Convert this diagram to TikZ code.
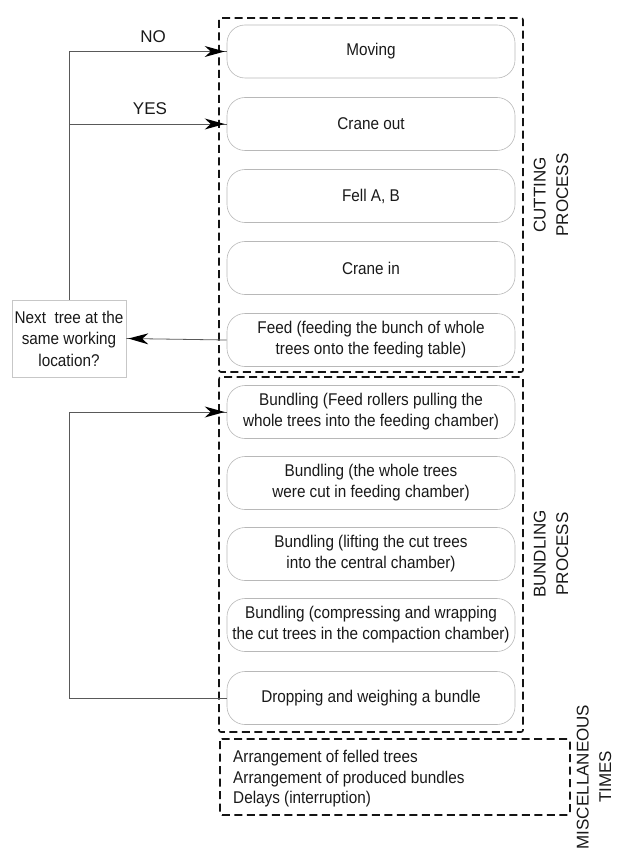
\documentclass[tikz,border=0pt]{standalone}
\usepackage{fontspec}
\setmainfont{Liberation Sans}[FakeStretch=0.9]
\newfontfamily\labfont{Liberation Sans}
\usetikzlibrary{decorations.markings}
\tikzset{
  stepbox/.style={draw=black!28, line width=0.6pt, rounded corners=18pt,
    minimum width=288pt, minimum height=53pt, align=center, text=black!90,
    font=\fontsize{17}{21}\selectfont, inner sep=0pt},
  qbox/.style={draw=black!22, line width=0.6pt, minimum width=114pt,
    minimum height=77pt, align=center, text=black!90,
    font=\fontsize{17}{21.5}\selectfont, inner sep=0pt},
  group/.style={draw=black!92, line width=1.6pt, dash pattern=on 8pt off 4.5pt, rounded corners=2pt},
  conn/.style={draw=black!65, line width=0.8pt},
  arr/.style={conn, postaction={decorate},
    decoration={markings, mark=at position 1 with {\fill[black] (-2pt,0pt) -- (-22pt,5.5pt) -- (-16pt,0pt) -- (-22pt,-5.5pt) -- cycle;}}},
  lab/.style={text=black!90, font=\labfont\fontsize{17}{22.5}\selectfont, align=center, inner sep=0pt},
  misc/.style={text=black!90, font=\fontsize{17}{20.5}\selectfont, inner sep=0pt, anchor=base west}
}
\begin{document}
\begin{tikzpicture}[x=1pt,y=-1pt]
\useasboundingbox (0,0) rectangle (617,850);

% group frames
\draw[group] (219,18) rectangle (523,372);
\draw[group] (219,377) rectangle (523,732);
\draw[group] (220,739) rectangle (570,815);

% cutting process steps
\node[stepbox] (mov)  at (371,51.5) {Moving};
\node[stepbox] (cout) at (371,124) {Crane out};
\node[stepbox] (fell) at (371,196) {Fell A, B};
\node[stepbox] (cin)  at (371,268) {Crane in};
\node[stepbox] (feed) at (371,340) {Feed (feeding the bunch of whole\\trees onto the feeding table)};

% bundling process steps
\node[stepbox] (b1) at (371,412) {Bundling (Feed rollers pulling the\\whole trees into the feeding chamber)};
\node[stepbox] (b2) at (371,483) {Bundling (the whole trees\\were cut in feeding chamber)};
\node[stepbox] (b3) at (371,554) {Bundling (lifting the cut trees\\into the central chamber)};
\node[stepbox] (b4) at (371,625) {Bundling (compressing and wrapping\\the cut trees in the compaction chamber)};
\node[stepbox] (b5) at (371,698) {Dropping and weighing a bundle};

% decision box
\node[qbox] (next) at (69,338.5) {Next\ \ tree at the\\same working\\location?};

% connectors
\draw[arr] (next.north) |- (mov.west);
\draw[arr] (next.north |- cout.west) -- (cout.west);
\draw[arr] (feed.west) -- (next.east);
\coordinate (bl) at (69,412);
\draw[conn] (b5.west) -| (bl);
\draw[arr] (bl) -- (b1.west);

\node[lab] (no)  at (153,37) {NO};
\node[lab] (yes) at (150,109) {YES};

% side labels
\node[lab, rotate=90] (cutl) at (551,195) {CUTTING\\PROCESS};
\node[lab, rotate=90] (bunl) at (551,554) {BUNDLING\\PROCESS};
\node[lab, rotate=90] (misl) at (594,777) {MISCELLANEOUS\\TIMES};

% miscellaneous times
\node[misc] (m1) at (233,762) {Arrangement of felled trees};
\node[misc] (m2) at (233,783) {Arrangement of produced bundles};
\node[misc] (m3) at (233,803) {Delays (interruption)};
\end{tikzpicture}
\end{document}
